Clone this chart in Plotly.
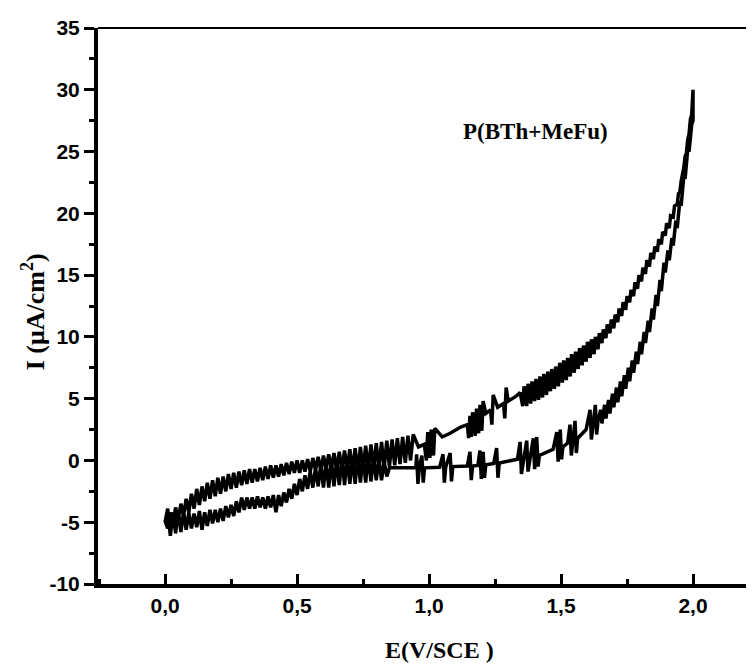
import plotly.graph_objects as go

# Forward scan (lower branch, 0 -> 2 V)
forward_E = [
    0.00, 0.01, 0.02, 0.03, 0.04, 0.05, 0.06, 0.07, 0.08, 0.09,
    0.10, 0.11, 0.12, 0.13, 0.14, 0.15, 0.16, 0.17, 0.18, 0.19,
    0.20, 0.21, 0.22, 0.23, 0.24, 0.25, 0.26, 0.27, 0.28, 0.29,
    0.30, 0.31, 0.32, 0.33, 0.34, 0.35, 0.36, 0.37, 0.38, 0.39,
    0.40, 0.41, 0.42, 0.43, 0.44, 0.45, 0.46, 0.47, 0.48, 0.49,
    0.50, 0.51, 0.52, 0.53, 0.54, 0.55, 0.56, 0.57, 0.58, 0.59,
    0.60, 0.61, 0.62, 0.63, 0.64, 0.65, 0.66, 0.67, 0.68, 0.69,
    0.70, 0.71, 0.72, 0.73, 0.74, 0.75, 0.76, 0.77, 0.78, 0.79,
    0.80, 0.81, 0.82, 0.83, 0.84, 0.85,
    0.880, 0.950, 0.953, 0.958, 0.963, 0.973, 0.978, 0.983,
    1.040, 1.053, 1.058, 1.063, 1.080, 1.085, 1.090,
    1.145, 1.155, 1.160, 1.165, 1.185, 1.193, 1.198, 1.205, 1.210, 1.215,
    1.245, 1.256, 1.261, 1.266,
    1.335, 1.345, 1.350, 1.370, 1.375, 1.395, 1.400, 1.408, 1.413, 1.418,
    1.470, 1.484, 1.489, 1.497, 1.502, 1.507,
    1.525, 1.534, 1.539, 1.553, 1.558, 1.563,
    1.595, 1.610, 1.615, 1.630, 1.635, 1.640,
    1.650, 1.655, 1.665, 1.670, 1.680, 1.685, 1.695, 1.700, 1.710, 1.715,
    1.725, 1.730, 1.740, 1.745, 1.755, 1.760, 1.770, 1.775, 1.785, 1.790,
    1.800, 1.805, 1.815, 1.820, 1.830, 1.835, 1.845, 1.850, 1.860, 1.865,
    1.875, 1.880, 1.890, 1.895, 1.905, 1.910, 1.920, 1.925, 1.935, 1.940,
    1.950, 1.955, 1.965, 1.970, 1.980, 1.985, 1.995, 2.000,
]
forward_I = [
    -5.0, -3.9, -6.1, -4.2, -5.9, -4.0, -5.8, -4.1, -5.6, -4.2,
    -5.5, -4.3, -5.4, -4.1, -5.6, -4.2, -5.3, -4.0, -5.1, -4.0,
    -5.0, -3.9, -4.9, -3.7, -4.6, -3.6, -4.5, -3.3, -4.2, -3.0,
    -4.0, -3.0, -3.9, -3.0, -3.9, -2.9, -3.8, -3.0, -3.9, -2.9,
    -3.8, -2.8, -4.2, -2.8, -3.7, -2.6, -3.4, -2.3, -3.1, -1.9,
    -2.8, -1.5, -2.5, -1.2, -2.3, -0.9, -2.2, -0.6, -2.1, -0.3,
    -2.2, -0.1, -2.2, 0.0, -2.1, 0.1, -2.0, 0.2, -2.0, 0.3,
    -1.9, 0.3, -1.9, 0.4, -1.8, 0.4, -1.8, 0.5, -1.7, 0.3,
    -1.6, 0.2, -1.6, -0.1, -1.3, -0.6,
    -0.6, -0.6, 0.5, -1.9, -0.6, 0.4, -1.8, -0.6,
    -0.55, 0.5, -1.8, -0.55, 0.6, -1.7, -0.5,
    -0.45, 0.7, -1.6, -0.45, -0.4, 0.8, -1.5, 0.7, -1.4, -0.35,
    -0.25, 1.0, -1.4, -0.2,
    0.1, 1.5, -1.1, 1.6, -0.9, 1.8, -0.7, 1.9, -0.5, 0.4,
    0.9, 2.3, -0.1, 2.5, 0.1, 1.1,
    1.4, 2.9, 0.4, 3.2, 0.6, 1.8,
    2.5, 4.1, 1.7, 4.5, 2.1, 3.2,
    4.1, 3.0, 4.5, 3.4, 4.9, 3.8, 5.4, 4.3, 5.9, 4.7,
    6.4, 5.2, 6.9, 5.8, 7.5, 6.4, 8.1, 7.1, 8.8, 7.8,
    9.6, 8.6, 10.4, 9.5, 11.3, 10.4, 12.3, 11.4, 13.4, 12.5,
    14.6, 13.7, 16.0, 15.2, 17.0, 16.2, 18.0, 17.4, 19.4, 18.8,
    21.0, 20.6, 23.0, 22.8, 25.2, 25.0, 27.2, 27.5,
]

# Reverse scan (upper branch, 2 -> 0 V)
reverse_E = [
    2.000, 1.995, 1.990, 1.985, 1.980, 1.975, 1.970, 1.965, 1.960, 1.955,
    1.950, 1.945, 1.940, 1.930, 1.925, 1.915, 1.910, 1.900, 1.895, 1.885,
    1.880, 1.870, 1.865, 1.855, 1.850, 1.840, 1.835, 1.825, 1.820, 1.810,
    1.805, 1.795, 1.790, 1.780, 1.775, 1.765, 1.760, 1.750, 1.745, 1.735,
    1.730, 1.720, 1.715, 1.705, 1.700, 1.690, 1.685, 1.675, 1.670, 1.660,
    1.655, 1.645, 1.640, 1.630, 1.625, 1.615, 1.610, 1.600, 1.595, 1.585,
    1.580, 1.570, 1.565, 1.555, 1.550, 1.540, 1.535, 1.525, 1.520, 1.510,
    1.505, 1.495, 1.490, 1.480, 1.475, 1.465, 1.460, 1.450, 1.445, 1.435,
    1.430, 1.420, 1.415, 1.405, 1.400, 1.390, 1.385, 1.375, 1.370, 1.360,
    1.355, 1.345,
    1.330, 1.300, 1.292, 1.287, 1.282, 1.260, 1.243, 1.238, 1.233, 1.215,
    1.205, 1.200, 1.193, 1.188, 1.180, 1.175, 1.165, 1.160, 1.155, 1.150, 1.145,
    1.120, 1.080, 1.050,
    1.022, 1.017, 1.008, 1.003, 0.995, 0.990, 0.982, 0.960,
    0.94, 0.93, 0.92, 0.91, 0.90, 0.89, 0.88, 0.87, 0.86, 0.85,
    0.84, 0.83, 0.82, 0.81, 0.80, 0.79, 0.78, 0.77, 0.76, 0.75,
    0.74, 0.73, 0.72, 0.71, 0.70, 0.69, 0.68, 0.67, 0.66, 0.65,
    0.64, 0.63, 0.62, 0.61, 0.60, 0.59, 0.58, 0.57, 0.56, 0.55,
    0.54, 0.53, 0.52, 0.51, 0.50, 0.49, 0.48, 0.47, 0.46, 0.45,
    0.44, 0.43, 0.42, 0.41, 0.40, 0.39, 0.38, 0.37, 0.36, 0.35,
    0.34, 0.33, 0.32, 0.31, 0.30, 0.29, 0.28, 0.27, 0.26, 0.25,
    0.24, 0.23, 0.22, 0.21, 0.20, 0.19, 0.18, 0.17, 0.16, 0.15,
    0.14, 0.13, 0.12, 0.11, 0.10, 0.09, 0.08, 0.07, 0.06, 0.05,
    0.04, 0.03, 0.02, 0.01, 0.00,
]
reverse_I = [
    30.0, 28.0, 27.6, 26.4, 26.0, 24.9, 24.6, 23.7, 23.2, 22.6,
    21.7, 21.6, 20.7, 20.6, 19.7, 19.8, 18.8, 19.2, 18.2, 18.5,
    17.5, 17.9, 16.9, 17.3, 16.3, 16.8, 15.7, 16.2, 15.1, 15.6,
    14.5, 15.0, 13.9, 14.4, 13.3, 13.8, 12.8, 13.3, 12.2, 12.8,
    11.7, 12.3, 11.2, 11.8, 10.7, 11.4, 10.3, 11.0, 9.9, 10.6,
    9.5, 10.3, 9.0, 10.0, 8.6, 9.8, 8.3, 9.6, 8.0, 9.3,
    7.7, 9.1, 7.4, 8.8, 7.1, 8.6, 6.8, 8.3, 6.5, 8.1,
    6.3, 7.9, 6.0, 7.6, 5.8, 7.4, 5.6, 7.2, 5.3, 7.0,
    5.1, 6.8, 4.9, 6.6, 4.8, 6.4, 4.6, 6.2, 4.4, 6.0,
    4.4, 5.5,
    5.2, 4.8, 5.9, 3.4, 4.6, 4.3, 5.3, 2.9, 4.1, 3.8,
    4.8, 2.4, 4.5, 2.2, 4.2, 2.0, 3.9, 1.9, 3.6, 1.8, 2.9,
    2.7, 2.2, 1.9,
    2.6, 0.4, 2.5, 0.2, 2.3, 0.0, 1.3, 1.1,
    2.1, 0.0, 2.0, -0.2, 1.9, -0.3, 1.8, -0.4, 1.7, -0.5,
    1.6, -0.6, 1.5, -0.7, 1.4, -0.7, 1.3, -0.8, 1.2, -0.8,
    1.1, -0.9, 1.0, -0.9, 0.9, -0.8, 0.8, -0.8, 0.7, -0.8,
    0.6, -0.7, 0.5, -0.7, 0.4, -0.8, 0.3, -0.8, 0.2, -0.9,
    0.1, -0.9, 0.0, -1.0, 0.0, -1.0, -0.1, -1.1, -0.2, -1.2,
    -0.3, -1.3, -0.4, -1.4, -0.4, -1.5, -0.5, -1.6, -0.6, -1.7,
    -0.7, -1.8, -0.7, -1.9, -0.8, -2.0, -0.9, -2.2, -1.0, -2.3,
    -1.1, -2.5, -1.3, -2.7, -1.4, -2.9, -1.6, -3.1, -1.8, -3.3,
    -2.1, -3.6, -2.3, -3.9, -2.7, -4.2, -3.1, -4.5, -3.5, -4.8,
    -3.8, -5.2, -4.2, -5.5, -4.9,
]

x_tickvals = [0.0, 0.5, 1.0, 1.5, 2.0]
x_ticktext = ["0,0", "0,5", "1,0", "1,5", "2,0"]
y_tickvals = [-10, -5, 0, 5, 10, 15, 20, 25, 30, 35]
y_ticktext = ["-10", "-5", "0", "5", "10", "15", "20", "25", "30", "35"]

E_all = forward_E + reverse_E
I_all = forward_I + reverse_I

fig = go.Figure()
fig.add_trace(go.Scatter(
    x=E_all, y=I_all, mode="lines",
    line=dict(color="black", width=3.5),
    showlegend=False, hoverinfo="skip",
))

tickfont = dict(family="Liberation Sans, Arial, sans-serif", size=21, color="black", weight="bold")
titlefont = dict(family="Liberation Serif, Times New Roman, serif", size=24, color="black", weight="bold")
ytitlefont = dict(family="Liberation Serif, Times New Roman, serif", size=26, color="black", weight="bold")
labelfont = dict(family="Liberation Serif, Times New Roman, serif", size=23, color="black", weight="bold")

fig.update_layout(
    width=746, height=656,
    margin=dict(l=90, r=0, t=20, b=80),
    paper_bgcolor="white", plot_bgcolor="white",
    xaxis=dict(
        range=[-0.254, 2.231], tickvals=x_tickvals, ticktext=x_ticktext,
        ticks="inside", ticklen=10, tickwidth=2.5, tickcolor="black",
        minor=dict(ticks="inside", ticklen=5, tickwidth=2.5, tickcolor="black", dtick=0.25, tick0=0),
        showline=True, linewidth=3.5, linecolor="black",
        showgrid=False, zeroline=False, tickfont=tickfont,
    ),
    yaxis=dict(
        range=[-10, 35], tickvals=y_tickvals, ticktext=y_ticktext,
        ticks="outside", ticklen=10, tickwidth=2.5, tickcolor="black",
        minor=dict(ticks="outside", ticklen=5, tickwidth=2.5, tickcolor="black", dtick=2.5, tick0=0),
        showline=True, linewidth=4, linecolor="black",
        showgrid=False, zeroline=False, tickfont=tickfont,
    ),
    shapes=[dict(type="line", xref="paper", yref="paper", x0=0, x1=1, y0=1, y1=1,
                 line=dict(color="black", width=2))],
    annotations=[
        dict(text="E(V/SCE )", xref="paper", yref="paper", x=0.52, y=-0.119,
             xanchor="center", yanchor="middle", showarrow=False, font=titlefont),
        dict(text="I (μA/cm<sup>2</sup>)", xref="paper", yref="paper", x=-0.098, y=0.49,
             xanchor="center", yanchor="middle", textangle=-90, showarrow=False, font=ytitlefont),
        dict(text="P(BTh+MeFu)", xref="x", yref="y", x=1.405, y=26.6,
             xanchor="center", yanchor="middle", showarrow=False, font=labelfont),
    ],
)

fig.write_html("out.html")
